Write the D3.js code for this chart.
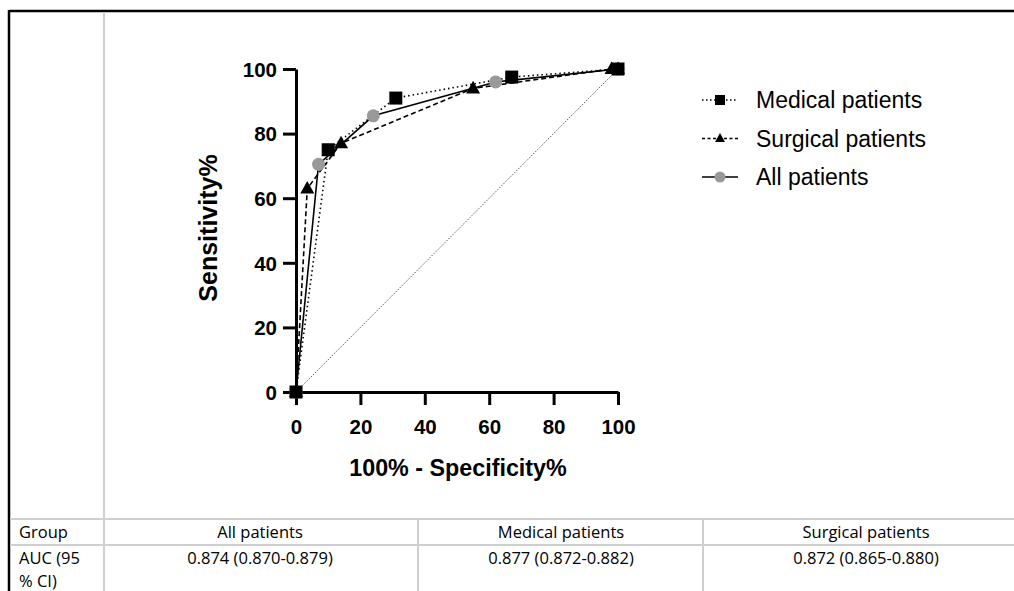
<!DOCTYPE html>
<html>
<head>
<meta charset="utf-8">
<script src="https://cdn.jsdelivr.net/npm/d3@7"></script>
<style>
  body { margin: 0; background: #fff; }
  svg { display: block; }
</style>
</head>
<body>
<svg id="chart" width="1014" height="591"></svg>
<script>
// ROC points (100% - specificity, sensitivity)
const medicalX = [0, 10, 31, 67, 100];
const medicalY = [0, 75, 91, 97.5, 100];
const surgicalX = [0, 3.5, 14, 55, 98, 100];
const surgicalY = [0, 63, 77, 94, 100, 100];
const allX = [0, 7, 24, 62, 100];
const allY = [0, 70.5, 85.5, 96, 100];

const ticks = [0, 20, 40, 60, 80, 100];
const legendLabels = ["Medical patients", "Surgical patients", "All patients"];

// table under the chart
const tableGroups = ["All patients", "Medical patients", "Surgical patients"];
const tableAuc = ["0.874 (0.870-0.879)", "0.877 (0.872-0.882)", "0.872 (0.865-0.880)"];

let svg = d3.select("#chart");
const font = "'Liberation Sans', Arial, sans-serif";

// frame of the surrounding table
svg.append("line").attr("x1", 9).attr("x2", 1014).attr("y1", 11).attr("y2", 11)
  .style("stroke", "#000").style("stroke-width", 2.5);
svg.append("line").attr("x1", 9).attr("x2", 9).attr("y1", 10).attr("y2", 591)
  .style("stroke", "#000").style("stroke-width", 2.5);
svg.append("line").attr("x1", 104).attr("x2", 104).attr("y1", 12).attr("y2", 591)
  .style("stroke", "#cfcfcf").style("stroke-width", 2);
[519, 545].forEach(y => {
  svg.append("line").attr("x1", 10).attr("x2", 1014).attr("y1", y).attr("y2", y)
    .style("stroke", "#cfcfcf").style("stroke-width", 2);
});
[418, 703].forEach(x => {
  svg.append("line").attr("x1", x).attr("x2", x).attr("y1", 519).attr("y2", 591)
    .style("stroke", "#cfcfcf").style("stroke-width", 2);
});

// scales
let xScale = d3.scaleLinear().domain([0, 100]).range([296, 618]);
let yScale = d3.scaleLinear().domain([0, 100]).range([392, 69]);

// reference diagonal
svg.append("line")
  .attr("x1", xScale(0)).attr("y1", yScale(0))
  .attr("x2", xScale(100)).attr("y2", yScale(100))
  .style("stroke", "#555").style("stroke-width", 1)
  .style("stroke-dasharray", "1.5,1.5");

// axes
let xAxis = svg.append("g").attr("transform", "translate(0," + yScale(0) + ")")
  .call(d3.axisBottom(xScale).tickValues(ticks).tickSize(13).tickSizeOuter(0).tickPadding(14));
let yAxis = svg.append("g").attr("transform", "translate(" + xScale(0) + ",0)")
  .call(d3.axisLeft(yScale).tickValues(ticks).tickSize(13).tickSizeOuter(0).tickPadding(6));
[xAxis, yAxis].forEach(a => {
  a.selectAll("path, line").style("stroke", "#000").style("stroke-width", 3);
  a.selectAll("text").style("font-family", font).style("font-size", "20.5px")
    .style("font-weight", "bold").style("fill", "#000");
});
yAxis.selectAll("text").attr("dy", "0.36em");

// axis titles
svg.append("text").attr("x", 458).attr("y", 476).attr("text-anchor", "middle")
  .style("font-family", font).style("font-size", "23.3px").style("font-weight", "bold")
  .text("100% - Specificity%");
svg.append("text").attr("transform", "translate(217,228) rotate(-90)").attr("text-anchor", "middle")
  .style("font-family", font).style("font-size", "25px").style("font-weight", "bold")
  .text("Sensitivity%");

// series
const series = [
  { xs: allX, ys: allY, dash: null, shape: "circle" },
  { xs: surgicalX, ys: surgicalY, dash: "5,3", shape: "triangle" },
  { xs: medicalX, ys: medicalY, dash: "1.5,3", shape: "square" }
];

let line = d3.line().x(d => xScale(d[0])).y(d => yScale(d[1]));

series.forEach(s => {
  let pts = s.xs.map((x, i) => [x, s.ys[i]]);
  svg.append("path").datum(pts).attr("d", line)
    .style("fill", "none").style("stroke", "#000").style("stroke-width", 1.6)
    .style("stroke-dasharray", s.dash);
});

function marker(sel, shape, size) {
  if (shape === "circle") {
    sel.append("circle").attr("r", size * 0.5).style("fill", "#999");
  } else if (shape === "square") {
    sel.append("rect").attr("x", -size / 2).attr("y", -size / 2)
      .attr("width", size).attr("height", size).style("fill", "#000");
  } else {
    let h = size * 0.9;
    sel.append("path")
      .attr("d", "M0," + (-h * 0.6) + "L" + (size / 2) + "," + (h * 0.4) + "L" + (-size / 2) + "," + (h * 0.4) + "Z")
      .style("fill", "#000");
  }
}

const markerSize = { circle: 13, triangle: 14, square: 13 };
series.forEach(s => {
  s.xs.forEach((x, i) => {
    let g = svg.append("g").attr("transform", "translate(" + xScale(x) + "," + yScale(s.ys[i]) + ")");
    marker(g, s.shape, markerSize[s.shape]);
  });
});

// legend
const legendShapes = ["square", "triangle", "circle"];
const legendDash = ["1.5,2.5", "3,2.5", null];
legendLabels.forEach((lab, i) => {
  let y = 100 + i * 38.5;
  svg.append("line").attr("x1", 702).attr("x2", 738).attr("y1", y).attr("y2", y)
    .style("stroke", "#000").style("stroke-width", 1.4).style("stroke-dasharray", legendDash[i]);
  let g = svg.append("g").attr("transform", "translate(720," + y + ")");
  marker(g, legendShapes[i], i === 2 ? 11 : 10);
  svg.append("text").attr("x", 756).attr("y", y).attr("dy", "0.36em")
    .style("font-family", font).style("font-size", "23px").text(lab);
});

// table text
const tfont = "'Open Sans', 'Noto Sans', sans-serif";
const tsize = "16.5px";
svg.append("text").attr("x", 19).attr("y", 538).style("font-family", tfont).style("font-size", tsize).text("Group");
svg.append("text").attr("x", 19).attr("y", 564).style("font-family", tfont).style("font-size", tsize).text("AUC (95");
svg.append("text").attr("x", 19).attr("y", 587).style("font-family", tfont).style("font-size", tsize).text("% CI)");
const colCenters = [260, 561, 866];
tableGroups.forEach((g, i) => {
  svg.append("text").attr("x", colCenters[i]).attr("y", 538).attr("text-anchor", "middle")
    .style("font-family", tfont).style("font-size", tsize).text(g);
  svg.append("text").attr("x", colCenters[i]).attr("y", 564).attr("text-anchor", "middle")
    .style("font-family", tfont).style("font-size", tsize).text(tableAuc[i]);
});
</script>
</body>
</html>
